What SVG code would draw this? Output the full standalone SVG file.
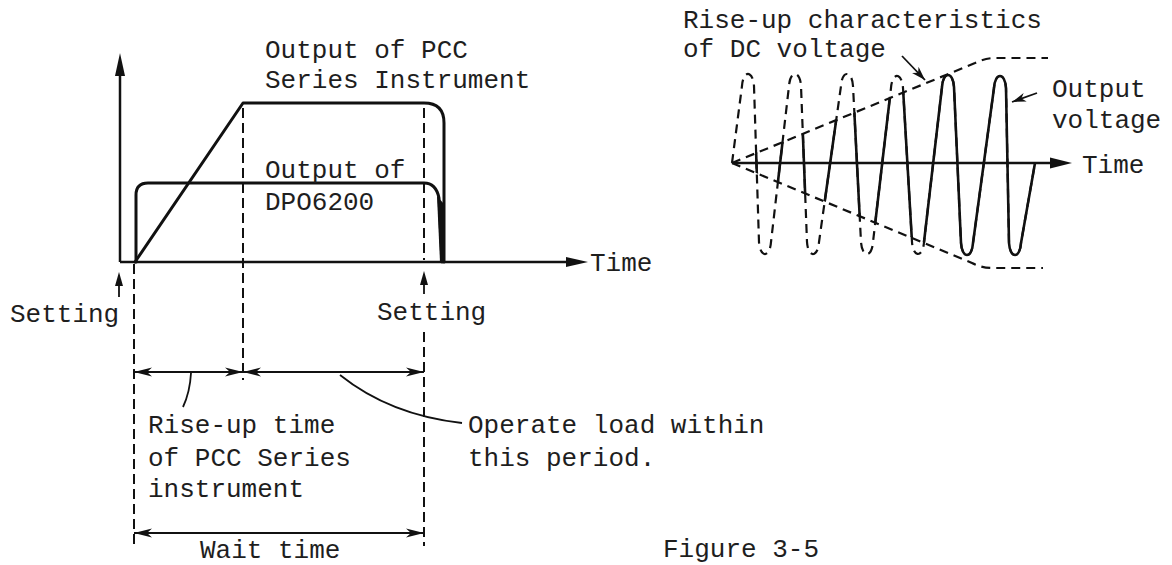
<svg xmlns="http://www.w3.org/2000/svg" width="1172" height="565" viewBox="0 0 1172 565">
<style>
text{font-family:"Liberation Mono","DejaVu Sans Mono",monospace;font-size:26px;fill:#1e1e1e}
.ln{fill:none;stroke:#111;stroke-width:3;stroke-linejoin:round;stroke-linecap:round}
.ax{fill:none;stroke:#111;stroke-width:2.5}
.th{fill:none;stroke:#111;stroke-width:1.8}
.ds{fill:none;stroke:#111;stroke-width:2;stroke-dasharray:10 5}
.wd{fill:none;stroke:#111;stroke-width:2.2;stroke-dasharray:9 6}
.ws{fill:none;stroke:#111;stroke-width:2.6;stroke-linejoin:round}
.hd{fill:#111;stroke:none}
</style>
<defs>
<marker id="dim" viewBox="0 0 18 10" refX="18" refY="5" markerWidth="18" markerHeight="10" markerUnits="userSpaceOnUse" orient="auto-start-reverse">
<path d="M0,0.5 L18,5 L0,9.5 L5,5 Z" fill="#111"/>
</marker>
<marker id="sm" viewBox="0 0 14 10" refX="14" refY="5" markerWidth="14" markerHeight="10" markerUnits="userSpaceOnUse" orient="auto">
<path d="M0,0.5 L14,5 L0,9.5 L4,5 Z" fill="#111"/>
</marker>
<clipPath id="env">
<polygon points="732,163 987,58 1060,58 1060,268 983,267"/>
</clipPath>
</defs>

<g id="left-axes">
<line class="ax" x1="120" y1="262" x2="120" y2="72"/>
<path class="hd" d="M120,53 L125,76 L115,76 Z"/>
<line class="ax" x1="120" y1="262" x2="570" y2="262"/>
<path class="hd" d="M588,262 L566,257 L566,267 Z"/>
</g>

<g id="pcc-output">
<path class="ln" d="M135,262 L243,103 L424,103 Q444,103 444,123 L444,262"/>
</g>
<g id="dpo-output">
<path class="ln" d="M136,262 L136,195 Q136,183 148,183 L424,183 Q436,183 439,198 L442,262"/>
<path class="hd" d="M437,196 L444,204 L444,262 L440,262 Z"/>
</g>

<g id="labels-left">
<text x="265" y="58">Output of PCC</text>
<text x="265" y="88">Series Instrument</text>
<text x="265" y="178">Output of</text>
<text x="265" y="210">DPO6200</text>
<text x="590" y="271">Time</text>
<text x="10" y="322">Setting</text>
<text x="377" y="320">Setting</text>
<text x="148" y="433">Rise-up time</text>
<text x="148" y="466">of PCC Series</text>
<text x="148" y="497">instrument</text>
<text x="468" y="433">Operate load within</text>
<text x="468" y="466">this period.</text>
<text x="200" y="558">Wait time</text>
<text x="663" y="557">Figure 3-5</text>
</g>

<g id="connectors">
<line class="ds" x1="134" y1="264" x2="134" y2="548"/>
<line class="ds" x1="243" y1="108" x2="243" y2="380"/>
<line class="ds" x1="424" y1="108" x2="424" y2="260"/>
<line class="ds" x1="424" y1="332" x2="424" y2="546"/>
<line class="th" x1="119" y1="297" x2="119" y2="282"/>
<path class="hd" d="M119,272 L123,286 L115,286 Z"/>
<line class="th" x1="424" y1="294" x2="424" y2="281"/>
<path class="hd" d="M424,271 L428,285 L420,285 Z"/>
<line class="th" x1="134" y1="372" x2="243" y2="372" marker-start="url(#dim)" marker-end="url(#dim)"/>
<line class="th" x1="243" y1="372" x2="424" y2="372" marker-start="url(#dim)" marker-end="url(#dim)"/>
<line class="th" x1="134" y1="533" x2="424" y2="533" marker-start="url(#dim)" marker-end="url(#dim)"/>
<path class="th" d="M191,373 Q190,392 183,407"/>
<path class="th" d="M340,375 Q390,415 462,423"/>
<line class="th" x1="902" y1="56" x2="925" y2="80" marker-end="url(#sm)"/>
<line class="th" x1="1037" y1="93" x2="1012" y2="102" marker-end="url(#sm)"/>
</g>

<g id="right-axes">
<line class="ax" x1="732" y1="163" x2="1052" y2="163"/>
<path class="hd" d="M1072,163 L1050,157.5 L1050,168.5 Z"/>
</g>

<g id="envelope">
<path class="wd" d="M732,163 L975,63 Q985,58 995,58 L1048,58"/>
<path class="wd" d="M732,163 L972,263 Q982,268 992,268 L1043,268"/>
</g>

<g id="output-voltage">
<path class="wd" d="M732,163 L742,86 C743,70 753,70 754,86 L759,242 C760,258 770,258 771,242 L789,86 C790,70 800,70 801,86 L807,242 C808,258 818,258 819,242 L841,86 C842,70 852,70 853,86 L861,242 C862,258 872,258 873,242 L891,88 C892,72 902,72 903,88 L912,242 C913,258 923,258 924,242 L942,87 C943,71 953,71 954,87 L961,243 C962,259 972,259 973,243 L994,88 C995,72 1005,72 1006,88 L1009,243 C1010,259 1020,259 1021,243 L1035,163"/>
<path class="ws" clip-path="url(#env)" d="M732,163 L742,86 C743,70 753,70 754,86 L759,242 C760,258 770,258 771,242 L789,86 C790,70 800,70 801,86 L807,242 C808,258 818,258 819,242 L841,86 C842,70 852,70 853,86 L861,242 C862,258 872,258 873,242 L891,88 C892,72 902,72 903,88 L912,242 C913,258 923,258 924,242 L942,87 C943,71 953,71 954,87 L961,243 C962,259 972,259 973,243 L994,88 C995,72 1005,72 1006,88 L1009,243 C1010,259 1020,259 1021,243 L1035,163"/>
</g>

<g id="labels-right">
<text x="683" y="28">Rise-up characteristics</text>
<text x="683" y="57">of DC voltage</text>
<text x="1052" y="97">Output</text>
<text x="1052" y="128">voltage</text>
<text x="1082" y="173">Time</text>
</g>
</svg>
